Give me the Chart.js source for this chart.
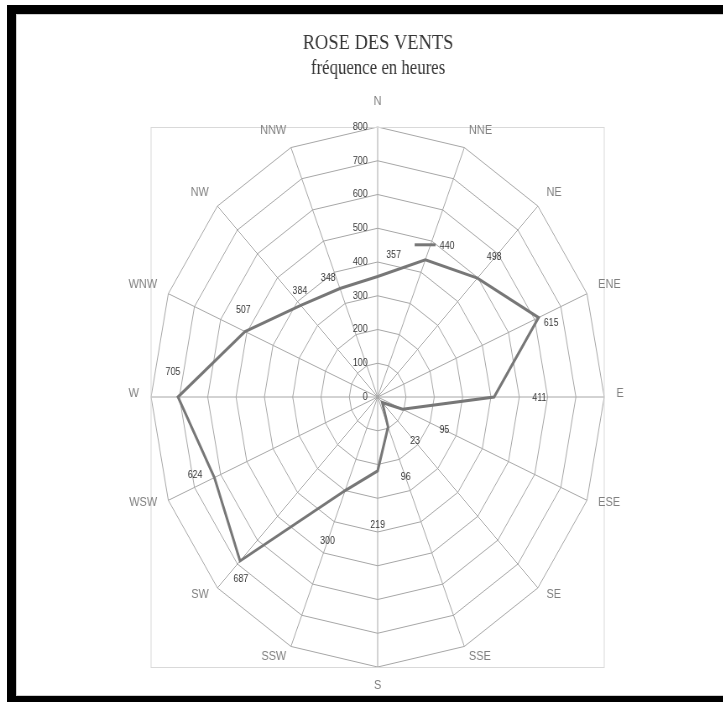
<!DOCTYPE html>
<html lang="fr">
<head>
<meta charset="utf-8">
<title>Rose des vents</title>
<script src="https://cdn.jsdelivr.net/npm/chart.js@4.4.1/dist/chart.umd.min.js"></script>
<style>
    html, body { margin: 0; padding: 0; background: #fff; }
    body { width: 723px; height: 702px; position: relative; overflow: hidden; }
    #frame {
        position: absolute; left: 7px; top: 5px; right: 0; bottom: 0;
        border-top: 9px solid #000; border-left: 9px solid #000; border-bottom: 6px solid #000;
    }
    #inner { position: absolute; left: 0; top: 0; right: 0; bottom: 0; border: 1px solid #d0d0d0; border-right: none; }
    /* the reference is squeezed horizontally, so the chart is drawn wide and scaled down */
    #wrap { position: absolute; left: 0; top: 0; width: 862px; height: 702px; transform: scaleX(0.8392); transform-origin: 0 0; }
</style>
</head>
<body>
<div id="frame"><div id="inner"></div></div>
<div id="wrap"><canvas id="roseChart" width="862" height="702"></canvas></div>
<script>
// Directions, clockwise from north
const directions = ['N', 'NNE', 'NE', 'ENE', 'E', 'ESE', 'SE', 'SSE', 'S', 'SSW', 'SW', 'WSW', 'W', 'WNW', 'NW', 'NNW'];
// Frequency in hours
const hours = [357, 440, 498, 615, 411, 95, 23, 96, 219, 300, 687, 624, 705, 507, 384, 348];
// Radial tick labels
const tickValues = [0, 100, 200, 300, 400, 500, 600, 700, 800];

// where each value label sits relative to its point (canvas units)
const labelOffsets = [
    [19, -21], [26, -14], [20, -21], [15, 6], [54, 1], [50, 21], [39, 39], [21, 50],
    [0, 54], [-21, 51], [1, 18], [-23, -2], [-6, -25], [-2, -21], [-1, -14], [-14, -10]
];

const lineColor = '#777777';
const textColor = '#363636';

const roseExtras = {
    id: 'roseExtras',
    beforeDatasetsDraw(chart) {
        const r = chart.scales.r;
        const ctx = chart.ctx;
        ctx.save();
        // plot area frame
        ctx.strokeStyle = '#d9d9d9';
        ctx.lineWidth = 1;
        ctx.strokeRect(r.xCenter - r.drawingArea, r.yCenter - r.drawingArea + 0.5, r.drawingArea * 2, r.drawingArea * 2);
        // tick labels, right aligned against the north axis
        ctx.font = '10.5px "Liberation Sans"';
        ctx.fillStyle = textColor;
        ctx.textAlign = 'right';
        ctx.textBaseline = 'middle';
        tickValues.forEach((v) => {
            ctx.fillText(String(v), r.xCenter - 12, r.yCenter - r.getDistanceFromCenterForValue(v));
        });
        // direction labels: anchored just outside the outer ring, text running away from the N-S axis
        ctx.font = '13px "Liberation Sans"';
        ctx.fillStyle = '#7f7f7f';
        directions.forEach((d, i) => {
            const p = r.getPointPosition(i, r.drawingArea + 14.5);
            const ang = i * 360 / directions.length;
            let y = p.y - 3.5;
            if (ang === 0 || ang === 180) {
                ctx.textAlign = 'center';
                y += ang === 0 ? -7.5 : 7.5;
            } else {
                ctx.textAlign = ang < 180 ? 'left' : 'right';
            }
            ctx.fillText(d, p.x, y);
        });
        ctx.restore();
    },
    afterDatasetsDraw(chart) {
        const ctx = chart.ctx;
        const meta = chart.getDatasetMeta(0);
        ctx.save();
        ctx.font = '10.5px "Liberation Sans"';
        ctx.fillStyle = textColor;
        ctx.textAlign = 'center';
        ctx.textBaseline = 'middle';
        meta.data.forEach((pt, i) => {
            const x = pt.x + labelOffsets[i][0];
            const y = pt.y + labelOffsets[i][1];
            const txt = String(hours[i]);
            ctx.fillText(txt, x, y);
            // legend key shown only with the NNE label
            if (i === 1) {
                const w = ctx.measureText(txt).width;
                ctx.strokeStyle = lineColor;
                ctx.lineWidth = 3;
                ctx.beginPath();
                ctx.moveTo(x - w / 2 - 30, y - 1);
                ctx.lineTo(x - w / 2 - 5, y - 1);
                ctx.stroke();
            }
        });
        ctx.restore();
    }
};

const ctx = document.getElementById('roseChart').getContext('2d');
const chart = new Chart(ctx, {
    type: 'radar',
    data: {
        labels: directions,
        datasets: [{
            label: 'heures',
            data: hours,
            borderColor: lineColor,
            borderWidth: 3,
            fill: false,
            pointRadius: 0,
            pointHoverRadius: 0,
            tension: 0
        }]
    },
    options: {
        responsive: false,
        animation: false,
        layout: {
            padding: { top: 0, bottom: 34, left: 39, right: 0 }
        },
        scales: {
            r: {
                min: 0,
                max: 800,
                ticks: { display: false, stepSize: 100 },
                grid: { color: '#a6a6a6', lineWidth: 1 },
                angleLines: { color: '#a6a6a6', lineWidth: 1 },
                pointLabels: { display: false }
            }
        },
        plugins: {
            legend: { display: false },
            tooltip: { enabled: false },
            title: {
                display: true,
                text: 'ROSE DES VENTS',
                color: textColor,
                font: { family: 'Liberation Serif', size: 22, weight: 'normal' },
                padding: { top: 30, bottom: 0 }
            },
            subtitle: {
                display: true,
                text: 'fréquence en heures',
                color: textColor,
                font: { family: 'Liberation Serif', size: 20, weight: 'normal' },
                padding: { top: 0, bottom: 47 }
            }
        }
    },
    plugins: [roseExtras]
});
</script>
</body>
</html>
